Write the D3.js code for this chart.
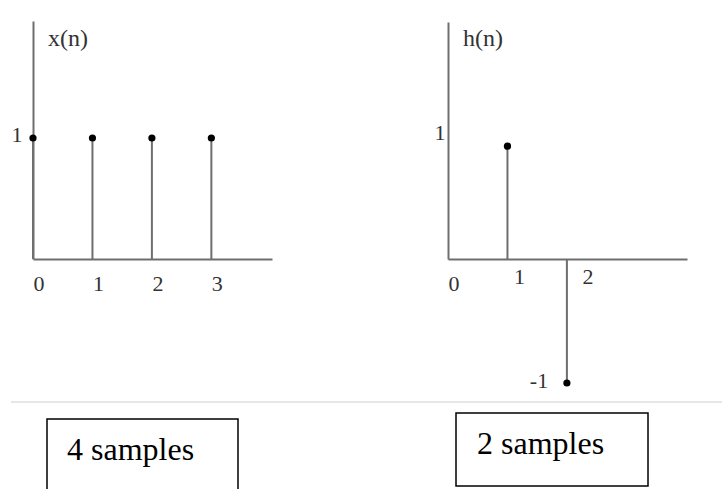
<!DOCTYPE html>
<html lang="en">
<head>
    <meta charset="UTF-8">
    <title>x(n) and h(n)</title>
    <script src="https://d3js.org/d3.v7.min.js"></script>
    <style>
        body { margin: 0; background: #fff; }
        text { font-family: "Liberation Serif", "Times New Roman", serif; }
    </style>
</head>
<body>
    <div id="chart"></div>
    <script>
        // Samples
        const xN = [0, 1, 2, 3];
        const xValues = [1, 1, 1, 1];
        const hN = [1, 2];
        const hValues = [0.91, -1];
        const xTickLabels = ["0", "1", "2", "3"];
        const hTickLabels = ["0", "1", "2"];
        const boxLabels = ["4 samples", "2 samples"];

        const width = 722, height = 489;
        const axisColor = "#6e6e6e";
        const labelColor = "#333";

        const svg = d3.select("#chart")
            .append("svg")
            .attr("width", width)
            .attr("height", height);

        // draw one stem plot
        function stemPlot(opts) {
            const x = d3.scaleLinear().domain([0, 4.02]).range([opts.left, opts.left + 239]);
            const y = d3.scaleLinear().domain([0, 1]).range([259, 259 - opts.unit]);
            const g = svg.append("g");

            // axes (no ticks, just the lines)
            g.append("g")
                .attr("transform", `translate(0,${y(0)})`)
                .call(d3.axisBottom(x).tickValues([]).tickSizeOuter(0))
                .select(".domain")
                .attr("stroke", axisColor)
                .attr("stroke-width", 2);

            g.append("g")
                .attr("transform", `translate(${x(0)},0)`)
                .call(d3.axisLeft(y.copy().domain([0, opts.yTop])
                    .range([259, opts.top])).tickValues([]).tickSizeOuter(0))
                .select(".domain")
                .attr("stroke", axisColor)
                .attr("stroke-width", 2);

            // stems
            g.selectAll(".stem")
                .data(opts.n)
                .join("line")
                .attr("x1", d => x(d))
                .attr("x2", d => x(d))
                .attr("y1", y(0))
                .attr("y2", (d, i) => y(opts.values[i]))
                .attr("stroke", axisColor)
                .attr("stroke-width", 2);

            g.selectAll(".dot")
                .data(opts.n)
                .join("circle")
                .attr("cx", d => x(d))
                .attr("cy", (d, i) => y(opts.values[i]))
                .attr("r", 3.6)
                .attr("fill", "#000");

            // n labels, a little to the right of each position
            g.selectAll(".nlab")
                .data(opts.ticks)
                .join("text")
                .attr("x", (d, i) => x(i) + opts.tickDx(i))
                .attr("y", (d, i) => opts.tickY(i))
                .attr("text-anchor", "middle")
                .attr("dominant-baseline", "central")
                .attr("font-size", 22)
                .attr("fill", labelColor)
                .text(d => d);

            // value labels on the y side
            opts.yLabels.forEach(l => {
                g.append("text")
                    .attr("x", l.x)
                    .attr("y", y(l.v) + l.dy)
                    .attr("text-anchor", "middle")
                    .attr("dominant-baseline", "central")
                    .attr("font-size", 22)
                    .attr("fill", labelColor)
                    .text(l.text);
            });

            g.append("text")
                .attr("x", x(0) + 15)
                .attr("y", 46)
                .attr("font-size", 24)
                .attr("fill", labelColor)
                .text(opts.title);
        }

        stemPlot({
            left: 33, top: 21, yTop: 1.97, unit: 121,
            n: xN, values: xValues, ticks: xTickLabels, title: "x(n)",
            tickDx: () => 6,
            tickY: () => 283,
            yLabels: [{ v: 1, text: "1", x: 17, dy: -4 }]
        });

        stemPlot({
            left: 448, top: 22, yTop: 1.91, unit: 124,
            n: hN, values: hValues, ticks: hTickLabels, title: "h(n)",
            tickDx: i => [6, 12, 21][i],
            tickY: i => i === 0 ? 283 : 276,
            yLabels: [
                { v: 1, text: "1", x: 440, dy: -3 },
                { v: -1, text: "-1", x: 539, dy: -3 }
            ]
        });

        // separator
        svg.append("line")
            .attr("x1", 11).attr("x2", width)
            .attr("y1", 402).attr("y2", 402)
            .attr("stroke", "#e6e6e6")
            .attr("stroke-width", 2);

        // sample count boxes
        const boxes = [
            { x: 47, y: 419, w: 191, h: 80, tx: 67, ty: 460 },
            { x: 456, y: 413, w: 192, h: 73, tx: 477, ty: 454 }
        ];
        boxes.forEach((b, i) => {
            svg.append("rect")
                .attr("x", b.x).attr("y", b.y)
                .attr("width", b.w).attr("height", b.h)
                .attr("fill", "none")
                .attr("stroke", "#000")
                .attr("stroke-width", 1.5);
            svg.append("text")
                .attr("x", b.tx).attr("y", b.ty)
                .attr("font-size", 32)
                .attr("fill", "#000")
                .text(boxLabels[i]);
        });
    </script>
</body>
</html>
